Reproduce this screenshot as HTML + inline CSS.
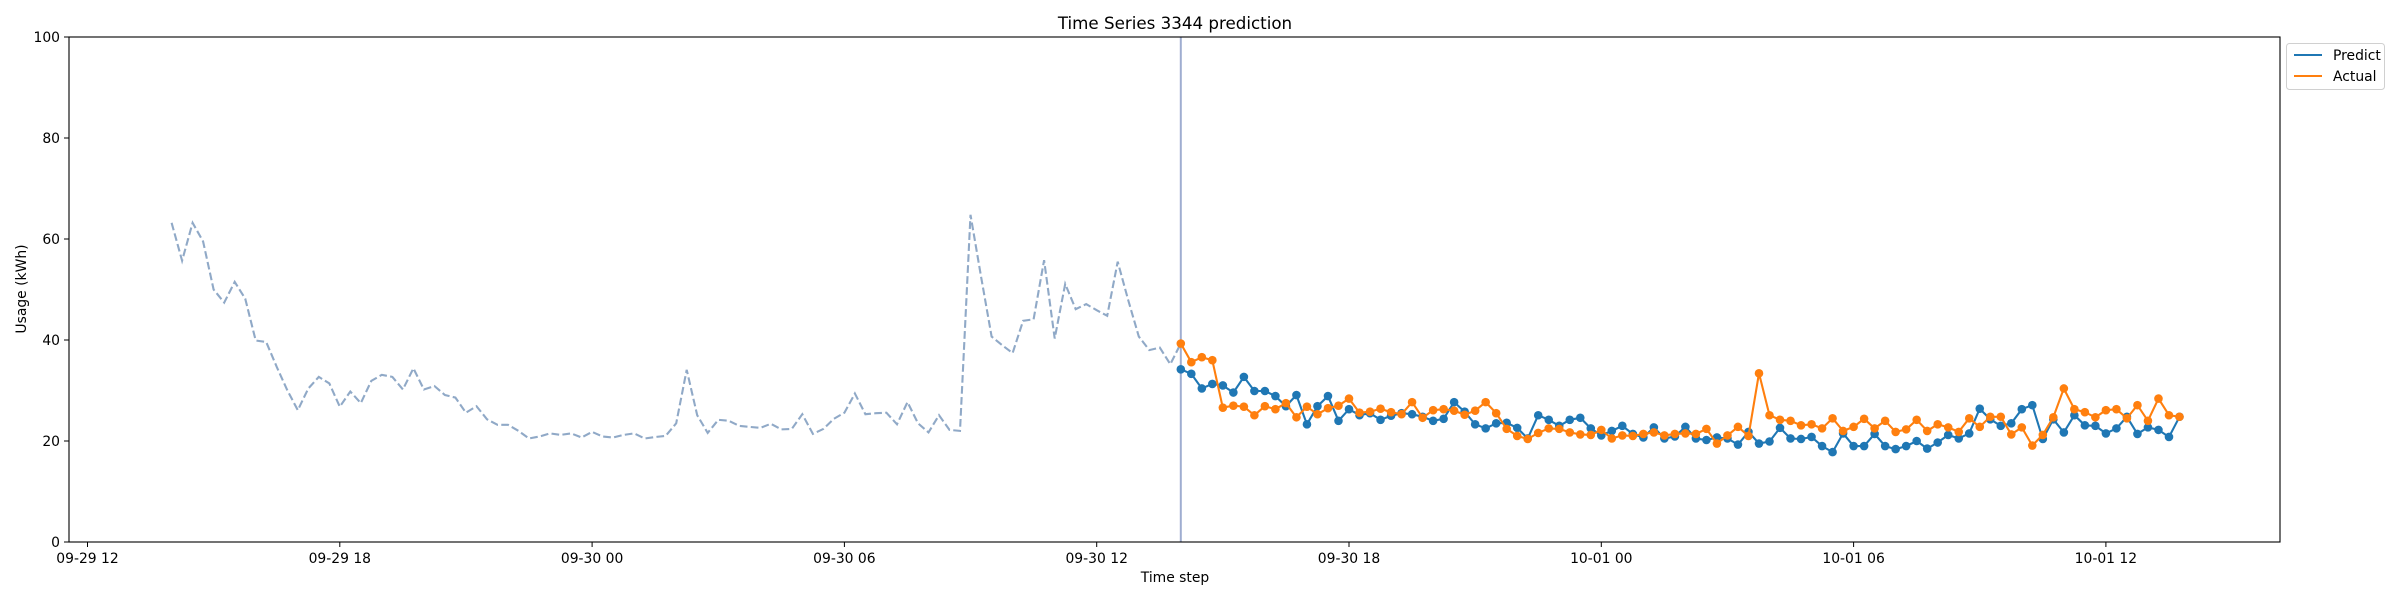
<!DOCTYPE html>
<html>
<head>
<meta charset="utf-8">
<style>
  html,body{margin:0;padding:0;background:#fff;}
  svg{display:block;font-family:"DejaVu Sans","Liberation Sans",sans-serif;}
</style>
</head>
<body>
<svg id="chart" width="2400" height="600" viewBox="0 0 2400 600" xmlns="http://www.w3.org/2000/svg">
  <rect x="0" y="0" width="2400" height="600" fill="#fff"/>
  <text x="1175" y="29" text-anchor="middle" font-size="16.7" fill="#000">Time Series 3344 prediction</text>
  <g id="plot"></g>
  <text x="1175" y="582" text-anchor="middle" font-size="13.9" fill="#000">Time step</text>
  <text transform="translate(26,289) rotate(-90)" text-anchor="middle" font-size="13.9" fill="#000">Usage (kWh)</text>
  <g>
    <rect x="2286.5" y="43.5" width="98" height="46" rx="3" fill="#fff" stroke="#d0d0d0" stroke-width="1"/>
    <line x1="2294" y1="55" x2="2322" y2="55" stroke="#1f77b4" stroke-width="2.1"/>
    <text x="2333" y="60" font-size="13.9" fill="#000">Predict</text>
    <line x1="2294" y1="76" x2="2322" y2="76" stroke="#ff7f0e" stroke-width="2.1"/>
    <text x="2333" y="81" font-size="13.9" fill="#000">Actual</text>
  </g>
</svg>
<script>
const historyValues = [63.2,55.7,63.2,59.5,50.0,47.4,51.5,48.2,39.9,39.6,34.7,30.1,26.1,30.4,32.7,31.4,26.8,29.8,27.5,31.9,33.1,32.7,30.2,34.4,30.2,30.9,29.1,28.6,25.6,26.9,24.3,23.2,23.2,22.0,20.5,20.9,21.5,21.2,21.5,20.7,21.8,20.9,20.7,21.2,21.5,20.5,20.8,21.0,23.5,34.1,25.1,21.6,24.2,24.0,23.0,22.8,22.6,23.4,22.3,22.4,25.3,21.4,22.4,24.4,25.6,29.4,25.3,25.5,25.6,23.3,27.7,23.5,21.7,25.1,22.2,22.0,64.8,52.5,40.7,39.0,37.4,43.8,44.1,55.8,40.3,51.1,46.1,47.1,45.9,44.8,55.5,47.9,40.7,38.0,38.5,35.2,39.3];
const actualValues = [39.3,35.6,36.6,36.0,26.6,27.0,26.8,25.1,26.9,26.3,27.5,24.7,26.8,25.3,26.5,27.0,28.4,25.6,25.8,26.4,25.7,25.3,27.7,24.6,26.1,26.3,26.0,25.2,26.0,27.7,25.5,22.4,21.0,20.4,21.6,22.5,22.4,21.7,21.3,21.2,22.2,20.5,21.1,21.0,21.4,21.7,21.1,21.4,21.5,21.4,22.4,19.5,21.1,22.8,21.0,33.4,25.1,24.2,24.0,23.1,23.3,22.5,24.5,22.0,22.8,24.4,22.5,24.0,21.8,22.3,24.2,22.0,23.3,22.7,21.8,24.5,22.8,24.8,24.8,21.3,22.7,19.1,21.2,24.7,30.4,26.3,25.7,24.7,26.1,26.3,24.5,27.1,24.0,28.4,25.1,24.8];
const predictValues = [34.2,33.3,30.4,31.3,31.0,29.6,32.7,29.9,29.9,28.9,26.9,29.1,23.3,26.9,28.9,24.0,26.3,25.1,25.5,24.2,25.0,25.5,25.3,24.8,24.0,24.4,27.7,25.8,23.3,22.5,23.5,23.6,22.6,20.5,25.1,24.2,23.0,24.2,24.6,22.5,21.1,22.0,23.0,21.4,20.7,22.7,20.5,20.9,22.8,20.5,20.2,20.7,20.5,19.3,21.8,19.5,19.9,22.6,20.5,20.4,20.8,19.0,17.8,21.5,19.0,19.0,21.4,19.0,18.4,19.0,20.0,18.5,19.7,21.2,20.5,21.5,26.4,24.3,23.0,23.5,26.3,27.1,20.4,24.3,21.7,25.1,23.1,23.0,21.5,22.5,24.8,21.4,22.7,22.2,20.8,24.8];
const yTicks = [0,20,40,60,80,100];
const xTickLabels = ["09-29 12","09-29 18","09-30 00","09-30 06","09-30 12","09-30 18","10-01 00","10-01 06","10-01 12"];
const historyStartHour = 2;
const forecastStartHour = 26;
const stepHours = 0.25;
const xTickStepHours = 6;

const NS = "http://www.w3.org/2000/svg";
const L = 69, R = 2280, Y0 = 542, PXU = 5.05;
const xScale = h => 87.5 + 42.05 * h;
const yScale = v => Y0 - PXU * v;
const plot = document.getElementById('plot');
function mk(tag, attrs, parent){
  const e = document.createElementNS(NS, tag);
  for (const k in attrs) e.setAttribute(k, attrs[k]);
  (parent||plot).appendChild(e);
  return e;
}
// y ticks
yTicks.forEach(v => {
  const y = yScale(v);
  const t = mk('line', {x1:L-5, x2:L, y1:y, y2:y, stroke:'#000', 'stroke-width':1});
  
  
  const lb = mk('text', {x:L-9, y:y+5, 'text-anchor':'end', 'font-size':13.9, fill:'#000'});
  lb.textContent = v;
  
  
});
// x ticks
xTickLabels.forEach((s, i) => {
  const x = xScale(i * xTickStepHours);
  const t = mk('line', {x1:x, x2:x, y1:Y0, y2:Y0+5, stroke:'#000', 'stroke-width':1});
  
  
  const lb = mk('text', {x:x, y:Y0+21, 'text-anchor':'middle', 'font-size':13.9, fill:'#000'});
  lb.textContent = s;
  
  
});
// forecast start line
const vx = xScale(forecastStartHour);
const vl = mk('line', {x1:vx, x2:vx, y1:yScale(100), y2:Y0, stroke:'#9fadd0', 'stroke-width':2});


// history
const hp = historyValues.map((v,i) => xScale(historyStartHour + i*stepHours).toFixed(1)+','+yScale(v).toFixed(1)).join(' ');
const hl = mk('polyline', {points:hp, fill:'none', stroke:'#8aa4c4', 'stroke-width':2.1, 'stroke-dasharray':'7.7,3.3', 'stroke-opacity':0.95});


function series(vals, color, name){
  const pts = vals.map((v,i) => xScale(forecastStartHour + i*stepHours).toFixed(1)+','+yScale(v).toFixed(1)).join(' ');
  const pl = mk('polyline', {points:pts, fill:'none', stroke:color, 'stroke-width':2.1});
  
  
  vals.forEach((v,i) => {
    const c = mk('circle', {cx:xScale(forecastStartHour + i*stepHours), cy:yScale(v), r:4.3, fill:color});
    
    
  });
}
series(predictValues, '#1f77b4', 'predict');
series(actualValues, '#ff7f0e', 'actual');
// frame
const fr = mk('rect', {x:L, y:yScale(100), width:R-L, height:Y0-yScale(100), fill:'none', stroke:'#000', 'stroke-width':1.1});


</script>
</body>
</html>
